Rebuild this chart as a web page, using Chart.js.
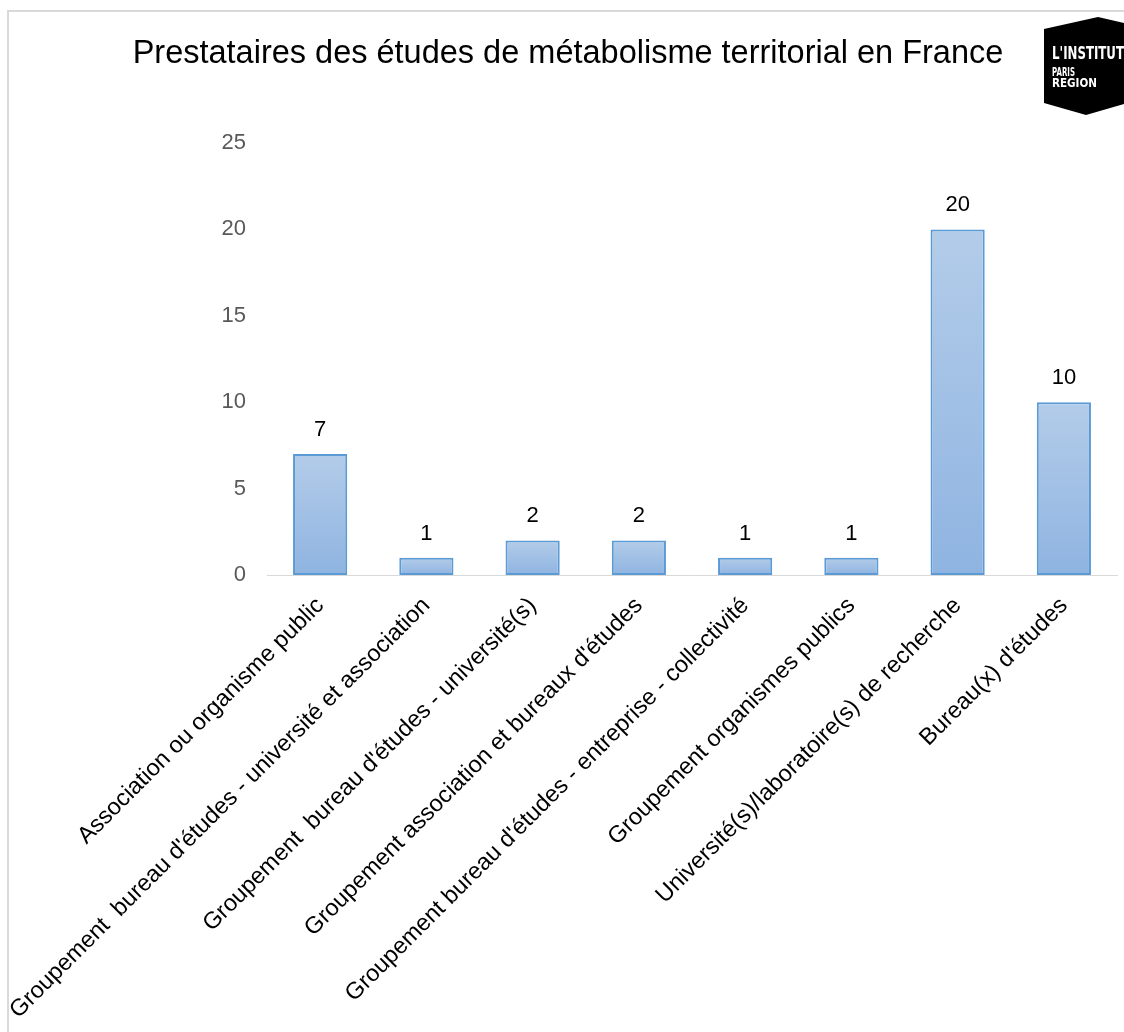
<!DOCTYPE html>
<html lang="fr">
<head>
<meta charset="utf-8">
<title>Prestataires des études de métabolisme territorial en France</title>
<script src="https://cdn.jsdelivr.net/npm/chart.js@4.4.1/dist/chart.umd.min.js"></script>
<style>
  html, body { margin: 0; padding: 0; background: #fff; overflow: hidden; }
  body { width: 1124px; height: 1032px; position: relative; }
  #frame {
    position: absolute; left: 7px; top: 10px; width: 1130px; height: 1040px;
    border-left: 2px solid #d9d9d9; border-top: 2px solid #d9d9d9; overflow: hidden;
  }
  #box { position: absolute; left: 0; top: 0; width: 1115px; height: 1020px; }
  #logo { position: absolute; left: 1040px; top: 14px; }
</style>
</head>
<body>
<div id="frame">
  <div id="box"><canvas id="chart"></canvas></div>
</div>
<svg id="logo" width="84" height="106" viewBox="1040 14 84 106">
  <polygon points="1044,29 1098,17 1124,23 1124,104 1086,115 1044,103" fill="#000"/>
  <text x="1052" y="59" fill="#fff" font-family="DejaVu Sans" font-weight="bold" font-size="18" textLength="72" lengthAdjust="spacingAndGlyphs">L'INSTITUT</text>
  <text x="1052" y="76" fill="#fff" font-family="DejaVu Sans" font-weight="bold" font-size="12.5" textLength="23" lengthAdjust="spacingAndGlyphs">PARIS</text>
  <text x="1052" y="87" fill="#fff" font-family="DejaVu Sans" font-weight="bold" font-size="12.5" textLength="45" lengthAdjust="spacingAndGlyphs">REGION</text>
</svg>
<script>
const categories = [
  "Association ou organisme public",
  "Groupement  bureau d'études - université et association",
  "Groupement  bureau d'études - université(s)",
  "Groupement association et bureaux d'études",
  "Groupement bureau d'études - entreprise - collectivité",
  "Groupement organismes publics",
  "Université(s)/laboratoire(s) de recherche",
  "Bureau(x) d'études"
];
const studyCounts = [7, 1, 2, 2, 1, 1, 20, 10];
const yTicks = [0, 5, 10, 15, 20, 25];

const chartTitle = "Prestataires des études de métabolisme territorial en France";
const font = "'Liberation Sans', Arial, sans-serif";

// vertical gradient for each bar, top light to bottom darker
const barFill = (ctx) => {
  const chart = ctx.chart;
  const y = chart.scales.y;
  if (!y || !chart.chartArea || ctx.type !== "data") return "#a5c2e6";
  const top = y.getPixelForValue(ctx.raw);
  const bottom = y.getPixelForValue(0);
  if (!isFinite(top) || !isFinite(bottom) || top === bottom) return "#a5c2e6";
  const g = chart.ctx.createLinearGradient(0, top, 0, bottom);
  g.addColorStop(0, "#b3cce9");
  g.addColorStop(1, "#8fb4e1");
  return g;
};

const valueLabels = {
  id: "valueLabels",
  afterDatasetsDraw(chart) {
    const { ctx } = chart;
    const meta = chart.getDatasetMeta(0);
    ctx.save();
    ctx.font = "22px " + font;
    ctx.fillStyle = "#000";
    ctx.textAlign = "center";
    ctx.textBaseline = "alphabetic";
    meta.data.forEach((bar, i) => {
      ctx.fillText(String(studyCounts[i]), bar.x, bar.y - 18);
    });
    ctx.restore();
  }
};

new Chart(document.getElementById("chart"), {
  type: "bar",
  data: {
    labels: categories,
    datasets: [{
      data: studyCounts,
      backgroundColor: barFill,
      borderColor: "#5b9bd5",
      borderWidth: 2,
      borderSkipped: false,
      categoryPercentage: 1,
      barPercentage: 0.51
    }]
  },
  options: {
    responsive: true,
    maintainAspectRatio: false,
    animation: false,
    layout: { padding: { top: 0, right: 7, bottom: 0, left: 10 } },
    plugins: {
      legend: { display: false },
      tooltip: { enabled: false },
      title: {
        display: true,
        text: chartTitle,
        color: "#000",
        font: { family: font, size: 32.5, weight: "normal" },
        padding: { top: 23, bottom: 69 }
      }
    },
    scales: {
      x: {
        grid: { display: false, drawTicks: false },
        border: { display: true, color: "#d9d9d9", width: 1 },
        ticks: {
          autoSkip: false,
          minRotation: 45,
          maxRotation: 45,
          padding: 17,
          color: "#000",
          font: { family: font, size: 23.5 }
        },
        afterFit: (s) => { s.height = 457; }
      },
      y: {
        min: 0,
        max: 25,
        grid: { display: false, drawTicks: false },
        border: { display: false },
        afterBuildTicks: (s) => { s.ticks = yTicks.map(v => ({ value: v })); },
        ticks: {
          padding: 21,
          color: "#595959",
          font: { family: font, size: 22 }
        },
        afterFit: (s) => { s.width = 248; }
      }
    }
  },
  plugins: [valueLabels]
});
</script>
</body>
</html>
